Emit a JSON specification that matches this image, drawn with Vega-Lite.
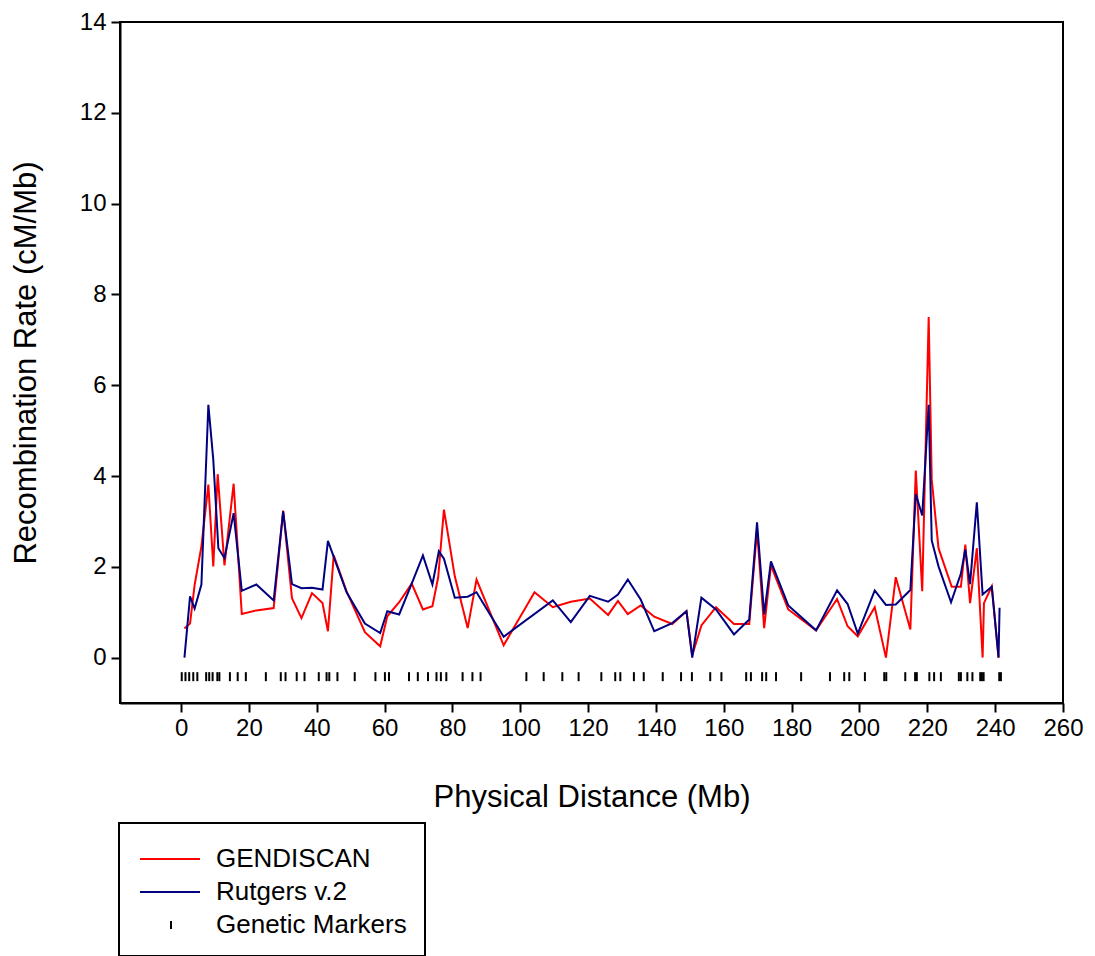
{
  "$schema": "https://vega.github.io/schema/vega-lite/v6.json",
  "autosize": {"type": "none"},
  "width": 943,
  "height": 681,
  "padding": {"left": 120, "top": 22, "right": 32, "bottom": 253},
  "background": "white",
  "config": {
    "font": "Liberation Sans",
    "view": {"stroke": "black", "strokeWidth": 2},
    "axis": {"grid": false, "domain": true, "domainColor": "black", "domainWidth": 2, "tickColor": "black", "tickWidth": 2, "tickSize": 9, "labelFlush": false, "labelOverlap": false, "labelFont": "Liberation Sans", "labelFontSize": 24, "labelColor": "black", "titleFont": "Liberation Sans", "titleFontSize": 31, "titleFontWeight": "normal", "titleColor": "black"}
  },
  "datasets": {
    "rates": [
      {"pos": 1.0, "rate": 0.64, "series": "GENDISCAN"},
      {"pos": 2.65, "rate": 0.75, "series": "GENDISCAN"},
      {"pos": 4.0, "rate": 1.6, "series": "GENDISCAN"},
      {"pos": 6.0, "rate": 2.45, "series": "GENDISCAN"},
      {"pos": 8.05, "rate": 3.81, "series": "GENDISCAN"},
      {"pos": 9.5, "rate": 2.01, "series": "GENDISCAN"},
      {"pos": 10.8, "rate": 4.04, "series": "GENDISCAN"},
      {"pos": 12.8, "rate": 2.03, "series": "GENDISCAN"},
      {"pos": 15.5, "rate": 3.83, "series": "GENDISCAN"},
      {"pos": 17.9, "rate": 0.96, "series": "GENDISCAN"},
      {"pos": 22.2, "rate": 1.04, "series": "GENDISCAN"},
      {"pos": 27.3, "rate": 1.09, "series": "GENDISCAN"},
      {"pos": 30.1, "rate": 3.24, "series": "GENDISCAN"},
      {"pos": 32.7, "rate": 1.31, "series": "GENDISCAN"},
      {"pos": 35.5, "rate": 0.87, "series": "GENDISCAN"},
      {"pos": 38.6, "rate": 1.42, "series": "GENDISCAN"},
      {"pos": 41.7, "rate": 1.2, "series": "GENDISCAN"},
      {"pos": 43.3, "rate": 0.58, "series": "GENDISCAN"},
      {"pos": 45.0, "rate": 2.25, "series": "GENDISCAN"},
      {"pos": 48.8, "rate": 1.46, "series": "GENDISCAN"},
      {"pos": 54.2, "rate": 0.56, "series": "GENDISCAN"},
      {"pos": 58.7, "rate": 0.25, "series": "GENDISCAN"},
      {"pos": 60.8, "rate": 0.91, "series": "GENDISCAN"},
      {"pos": 64.3, "rate": 1.22, "series": "GENDISCAN"},
      {"pos": 68.0, "rate": 1.63, "series": "GENDISCAN"},
      {"pos": 71.3, "rate": 1.06, "series": "GENDISCAN"},
      {"pos": 74.1, "rate": 1.13, "series": "GENDISCAN"},
      {"pos": 75.8, "rate": 1.77, "series": "GENDISCAN"},
      {"pos": 77.5, "rate": 3.26, "series": "GENDISCAN"},
      {"pos": 80.7, "rate": 1.79, "series": "GENDISCAN"},
      {"pos": 84.5, "rate": 0.65, "series": "GENDISCAN"},
      {"pos": 87.1, "rate": 1.72, "series": "GENDISCAN"},
      {"pos": 95.1, "rate": 0.27, "series": "GENDISCAN"},
      {"pos": 104.2, "rate": 1.44, "series": "GENDISCAN"},
      {"pos": 109.6, "rate": 1.11, "series": "GENDISCAN"},
      {"pos": 114.9, "rate": 1.23, "series": "GENDISCAN"},
      {"pos": 120.5, "rate": 1.3, "series": "GENDISCAN"},
      {"pos": 125.9, "rate": 0.94, "series": "GENDISCAN"},
      {"pos": 128.8, "rate": 1.25, "series": "GENDISCAN"},
      {"pos": 131.7, "rate": 0.96, "series": "GENDISCAN"},
      {"pos": 135.5, "rate": 1.15, "series": "GENDISCAN"},
      {"pos": 139.5, "rate": 0.9, "series": "GENDISCAN"},
      {"pos": 144.8, "rate": 0.74, "series": "GENDISCAN"},
      {"pos": 149.0, "rate": 1.02, "series": "GENDISCAN"},
      {"pos": 150.7, "rate": 0.05, "series": "GENDISCAN"},
      {"pos": 153.4, "rate": 0.71, "series": "GENDISCAN"},
      {"pos": 157.7, "rate": 1.11, "series": "GENDISCAN"},
      {"pos": 163.0, "rate": 0.74, "series": "GENDISCAN"},
      {"pos": 167.5, "rate": 0.74, "series": "GENDISCAN"},
      {"pos": 169.8, "rate": 2.82, "series": "GENDISCAN"},
      {"pos": 171.9, "rate": 0.65, "series": "GENDISCAN"},
      {"pos": 173.9, "rate": 2.03, "series": "GENDISCAN"},
      {"pos": 179.0, "rate": 1.06, "series": "GENDISCAN"},
      {"pos": 187.2, "rate": 0.6, "series": "GENDISCAN"},
      {"pos": 193.4, "rate": 1.29, "series": "GENDISCAN"},
      {"pos": 196.5, "rate": 0.69, "series": "GENDISCAN"},
      {"pos": 199.5, "rate": 0.47, "series": "GENDISCAN"},
      {"pos": 204.5, "rate": 1.11, "series": "GENDISCAN"},
      {"pos": 207.8, "rate": 0.0, "series": "GENDISCAN"},
      {"pos": 210.7, "rate": 1.77, "series": "GENDISCAN"},
      {"pos": 215.0, "rate": 0.62, "series": "GENDISCAN"},
      {"pos": 216.6, "rate": 4.12, "series": "GENDISCAN"},
      {"pos": 218.5, "rate": 1.46, "series": "GENDISCAN"},
      {"pos": 220.4, "rate": 7.5, "series": "GENDISCAN"},
      {"pos": 221.3, "rate": 3.92, "series": "GENDISCAN"},
      {"pos": 223.3, "rate": 2.41, "series": "GENDISCAN"},
      {"pos": 227.2, "rate": 1.56, "series": "GENDISCAN"},
      {"pos": 229.9, "rate": 1.56, "series": "GENDISCAN"},
      {"pos": 231.2, "rate": 2.49, "series": "GENDISCAN"},
      {"pos": 232.6, "rate": 1.2, "series": "GENDISCAN"},
      {"pos": 234.6, "rate": 2.41, "series": "GENDISCAN"},
      {"pos": 236.3, "rate": 0.0, "series": "GENDISCAN"},
      {"pos": 236.7, "rate": 1.2, "series": "GENDISCAN"},
      {"pos": 239.0, "rate": 1.57, "series": "GENDISCAN"},
      {"pos": 241.0, "rate": 0.0, "series": "GENDISCAN"},
      {"pos": 1.0, "rate": 0.0, "series": "Rutgers v.2"},
      {"pos": 2.65, "rate": 1.35, "series": "Rutgers v.2"},
      {"pos": 4.0, "rate": 1.08, "series": "Rutgers v.2"},
      {"pos": 6.0, "rate": 1.61, "series": "Rutgers v.2"},
      {"pos": 8.05, "rate": 5.57, "series": "Rutgers v.2"},
      {"pos": 9.5, "rate": 4.36, "series": "Rutgers v.2"},
      {"pos": 11.0, "rate": 2.41, "series": "Rutgers v.2"},
      {"pos": 12.8, "rate": 2.19, "series": "Rutgers v.2"},
      {"pos": 15.5, "rate": 3.18, "series": "Rutgers v.2"},
      {"pos": 17.9, "rate": 1.47, "series": "Rutgers v.2"},
      {"pos": 22.2, "rate": 1.61, "series": "Rutgers v.2"},
      {"pos": 27.3, "rate": 1.26, "series": "Rutgers v.2"},
      {"pos": 30.1, "rate": 3.22, "series": "Rutgers v.2"},
      {"pos": 32.7, "rate": 1.62, "series": "Rutgers v.2"},
      {"pos": 35.5, "rate": 1.53, "series": "Rutgers v.2"},
      {"pos": 38.6, "rate": 1.54, "series": "Rutgers v.2"},
      {"pos": 41.7, "rate": 1.5, "series": "Rutgers v.2"},
      {"pos": 43.3, "rate": 2.57, "series": "Rutgers v.2"},
      {"pos": 48.8, "rate": 1.44, "series": "Rutgers v.2"},
      {"pos": 54.2, "rate": 0.75, "series": "Rutgers v.2"},
      {"pos": 58.7, "rate": 0.54, "series": "Rutgers v.2"},
      {"pos": 60.8, "rate": 1.02, "series": "Rutgers v.2"},
      {"pos": 64.3, "rate": 0.95, "series": "Rutgers v.2"},
      {"pos": 68.0, "rate": 1.63, "series": "Rutgers v.2"},
      {"pos": 71.3, "rate": 2.25, "series": "Rutgers v.2"},
      {"pos": 74.1, "rate": 1.61, "series": "Rutgers v.2"},
      {"pos": 76.0, "rate": 2.34, "series": "Rutgers v.2"},
      {"pos": 77.5, "rate": 2.18, "series": "Rutgers v.2"},
      {"pos": 80.7, "rate": 1.32, "series": "Rutgers v.2"},
      {"pos": 84.5, "rate": 1.34, "series": "Rutgers v.2"},
      {"pos": 87.1, "rate": 1.44, "series": "Rutgers v.2"},
      {"pos": 95.1, "rate": 0.46, "series": "Rutgers v.2"},
      {"pos": 109.6, "rate": 1.26, "series": "Rutgers v.2"},
      {"pos": 114.9, "rate": 0.78, "series": "Rutgers v.2"},
      {"pos": 120.5, "rate": 1.36, "series": "Rutgers v.2"},
      {"pos": 125.9, "rate": 1.23, "series": "Rutgers v.2"},
      {"pos": 128.8, "rate": 1.39, "series": "Rutgers v.2"},
      {"pos": 131.7, "rate": 1.72, "series": "Rutgers v.2"},
      {"pos": 135.5, "rate": 1.28, "series": "Rutgers v.2"},
      {"pos": 139.5, "rate": 0.58, "series": "Rutgers v.2"},
      {"pos": 144.8, "rate": 0.76, "series": "Rutgers v.2"},
      {"pos": 149.0, "rate": 1.02, "series": "Rutgers v.2"},
      {"pos": 150.7, "rate": 0.0, "series": "Rutgers v.2"},
      {"pos": 153.4, "rate": 1.32, "series": "Rutgers v.2"},
      {"pos": 157.7, "rate": 1.06, "series": "Rutgers v.2"},
      {"pos": 163.0, "rate": 0.51, "series": "Rutgers v.2"},
      {"pos": 167.5, "rate": 0.84, "series": "Rutgers v.2"},
      {"pos": 169.8, "rate": 2.98, "series": "Rutgers v.2"},
      {"pos": 171.9, "rate": 0.95, "series": "Rutgers v.2"},
      {"pos": 173.9, "rate": 2.12, "series": "Rutgers v.2"},
      {"pos": 179.0, "rate": 1.15, "series": "Rutgers v.2"},
      {"pos": 187.2, "rate": 0.6, "series": "Rutgers v.2"},
      {"pos": 193.4, "rate": 1.48, "series": "Rutgers v.2"},
      {"pos": 196.5, "rate": 1.18, "series": "Rutgers v.2"},
      {"pos": 199.5, "rate": 0.53, "series": "Rutgers v.2"},
      {"pos": 204.5, "rate": 1.48, "series": "Rutgers v.2"},
      {"pos": 207.8, "rate": 1.16, "series": "Rutgers v.2"},
      {"pos": 210.7, "rate": 1.17, "series": "Rutgers v.2"},
      {"pos": 215.0, "rate": 1.49, "series": "Rutgers v.2"},
      {"pos": 216.6, "rate": 3.6, "series": "Rutgers v.2"},
      {"pos": 218.5, "rate": 3.13, "series": "Rutgers v.2"},
      {"pos": 220.4, "rate": 5.57, "series": "Rutgers v.2"},
      {"pos": 221.3, "rate": 2.58, "series": "Rutgers v.2"},
      {"pos": 223.3, "rate": 2.01, "series": "Rutgers v.2"},
      {"pos": 227.0, "rate": 1.22, "series": "Rutgers v.2"},
      {"pos": 229.9, "rate": 1.85, "series": "Rutgers v.2"},
      {"pos": 231.2, "rate": 2.38, "series": "Rutgers v.2"},
      {"pos": 232.6, "rate": 1.62, "series": "Rutgers v.2"},
      {"pos": 234.6, "rate": 3.42, "series": "Rutgers v.2"},
      {"pos": 236.3, "rate": 1.39, "series": "Rutgers v.2"},
      {"pos": 239.0, "rate": 1.56, "series": "Rutgers v.2"},
      {"pos": 241.0, "rate": 0.0, "series": "Rutgers v.2"},
      {"pos": 241.3, "rate": 1.1, "series": "Rutgers v.2"}
    ],
    "markers": [
      {"pos": 0.2}, {"pos": 1.3}, {"pos": 2.4}, {"pos": 3.6}, {"pos": 4.8}, {"pos": 7.4}, {"pos": 8.3}, {"pos": 9.3}, {"pos": 10.7}, {"pos": 11.3},
      {"pos": 14.4}, {"pos": 16.7}, {"pos": 19.1}, {"pos": 25.0}, {"pos": 29.4}, {"pos": 30.8}, {"pos": 34.1}, {"pos": 36.4}, {"pos": 40.6}, {"pos": 42.9},
      {"pos": 43.7}, {"pos": 46.1}, {"pos": 51.2}, {"pos": 57.3}, {"pos": 60.1}, {"pos": 61.3}, {"pos": 67.2}, {"pos": 69.8}, {"pos": 72.8}, {"pos": 75.3},
      {"pos": 76.6}, {"pos": 78.2}, {"pos": 83.0}, {"pos": 85.9}, {"pos": 88.3}, {"pos": 101.8}, {"pos": 106.9}, {"pos": 112.4}, {"pos": 117.2}, {"pos": 123.9},
      {"pos": 128.0}, {"pos": 129.5}, {"pos": 133.5}, {"pos": 136.4}, {"pos": 142.0}, {"pos": 147.4}, {"pos": 150.6}, {"pos": 156.0}, {"pos": 159.3}, {"pos": 166.6},
      {"pos": 168.0}, {"pos": 171.3}, {"pos": 172.5}, {"pos": 175.4}, {"pos": 182.8}, {"pos": 191.3}, {"pos": 195.5}, {"pos": 197.0}, {"pos": 201.6}, {"pos": 207.3},
      {"pos": 207.9}, {"pos": 213.5}, {"pos": 216.4}, {"pos": 216.9}, {"pos": 220.6}, {"pos": 222.0}, {"pos": 224.0}, {"pos": 229.3}, {"pos": 229.9}, {"pos": 231.8},
      {"pos": 233.3}, {"pos": 235.6}, {"pos": 236.1}, {"pos": 236.6}, {"pos": 241.2}, {"pos": 241.7}
    ]
  },
  "layer": [
    {
      "data": {"name": "markers"},
      "mark": {"type": "tick", "orient": "vertical", "color": "black", "size": 9, "thickness": 2, "opacity": 1},
      "encoding": {
        "x": {"field": "pos", "type": "quantitative", "scale": {"domain": [-18, 260], "nice": false, "zero": false},
          "axis": {"values": [0, 20, 40, 60, 80, 100, 120, 140, 160, 180, 200, 220, 240, 260], "title": "Physical Distance (Mb)", "titlePadding": 42, "labelPadding": 4}},
        "y": {"datum": -0.42, "type": "quantitative"}
      }
    },
    {
      "data": {"name": "rates"},
      "mark": {"type": "line", "strokeWidth": 2, "clip": true},
      "encoding": {
        "x": {"field": "pos", "type": "quantitative"},
        "y": {"field": "rate", "type": "quantitative", "scale": {"domain": [-1, 14], "nice": false, "zero": false},
          "axis": {"values": [0, 2, 4, 6, 8, 10, 12, 14], "title": "Recombination Rate (cM/Mb)", "titlePadding": 37, "labelPadding": 5}},
        "color": {
          "field": "series", "type": "nominal",
          "scale": {"domain": ["GENDISCAN", "Rutgers v.2", "Genetic Markers"], "range": ["#ff0000", "#000080", "#000000"]},
          "legend": {
            "orient": "none", "legendX": -1, "legendY": 801,
            "title": " ", "titleFontSize": 2, "titlePadding": 3,
            "strokeColor": "black", "padding": 18,
            "labelFont": "Liberation Sans", "labelFontSize": 26, "labelColor": "black", "labelOffset": 53, "labelLimit": 400,
            "symbolType": "M-1,0L5,0", "symbolSize": 400, "symbolStrokeWidth": 2, "rowPadding": 7,
            "encode": {
              "legend": {"update": {"strokeWidth": {"value": 2}}},
              "symbols": {"update": {
                "shape": {"signal": "datum.value === 'Genetic Markers' ? 'M2.1,-0.4L2.1,0.4' : 'M-1,0L5,0'"},
                "fill": {"value": "transparent"},
                "stroke": {"scale": "color", "field": "value"}
              }}
            }
          }
        }
      }
    }
  ]
}
